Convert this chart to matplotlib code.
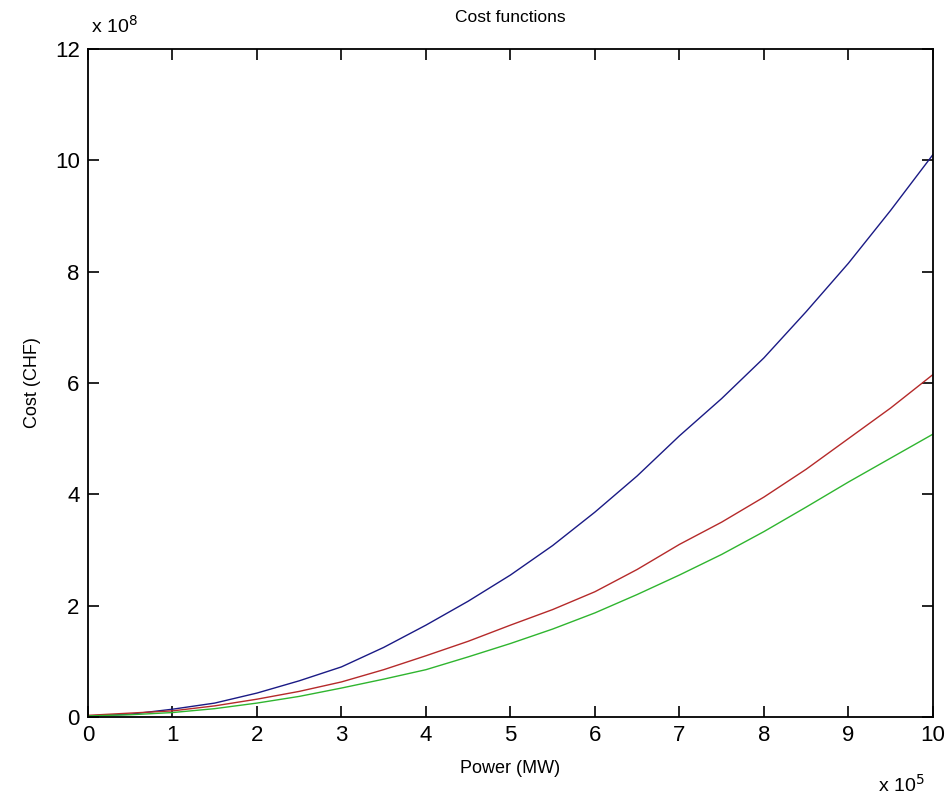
import numpy as np
import matplotlib.pyplot as plt

plt.rcParams['font.family'] = ['Liberation Sans', 'DejaVu Sans']

# power in units of 1e5 MW, cost in units of 1e8 CHF
power = [0, 0.5, 1, 1.5, 2, 2.5, 3, 3.5, 4, 4.5, 5, 5.5, 6, 6.5, 7, 7.5, 8, 8.5, 9, 9.5, 10]
cost_blue = [0.02, 0.05, 0.14, 0.25, 0.43, 0.65, 0.90, 1.25, 1.65, 2.08, 2.55, 3.08, 3.68,
             4.33, 5.05, 5.72, 6.45, 7.28, 8.15, 9.10, 10.10]
cost_red = [0.03, 0.07, 0.11, 0.20, 0.32, 0.46, 0.63, 0.85, 1.10, 1.36, 1.65, 1.93, 2.25,
            2.65, 3.10, 3.50, 3.95, 4.45, 5.00, 5.55, 6.15]
cost_green = [0.02, 0.04, 0.08, 0.15, 0.25, 0.37, 0.52, 0.68, 0.85, 1.08, 1.32, 1.58, 1.87,
              2.20, 2.55, 2.92, 3.33, 3.77, 4.22, 4.65, 5.08]

fig = plt.figure(figsize=(9.48, 7.98), dpi=100)
ax = fig.add_axes([0.0928, 0.1015, 0.8912, 0.8371])

ax.plot(power, cost_blue, color='#1a1a85', linewidth=1.0)
ax.plot(power, cost_red, color='#b52a2a', linewidth=1.0)
ax.plot(power, cost_green, color='#2fb52f', linewidth=1.0)

ax.set_xlim(0, 10)
ax.set_ylim(0, 12)
ax.set_xticks(np.arange(0, 11, 1))
ax.set_yticks(np.arange(0, 13, 2))
ax.tick_params(direction='in', length=8, width=1.2, top=True, right=True,
               labelsize=16, pad=6)
for s in ax.spines.values():
    s.set_linewidth(1.3)

ax.set_xlabel('Power (MW)', fontsize=13, labelpad=10)
ax.set_ylabel('Cost (CHF)', fontsize=13, labelpad=10)
fig.text(0.538, 0.978, 'Cost functions', ha='center', va='center', fontsize=12.5)

fig.text(0.096, 0.968, r'x 10$^{8}$', ha='left', va='center', fontsize=14)
fig.text(0.975, 0.016, r'x 10$^{5}$', ha='right', va='center', fontsize=14)

plt.savefig('out.png', dpi=100)
